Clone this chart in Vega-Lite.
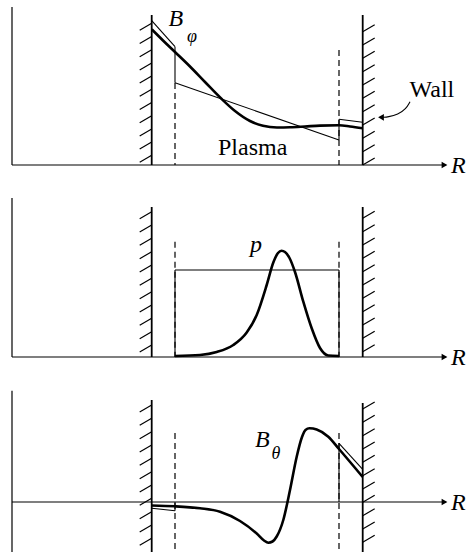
{
  "$schema": "https://vega.github.io/schema/vega-lite/v6.json",
  "width": 467,
  "height": 552,
  "padding": 0,
  "autosize": {"type": "none"},
  "background": "white",
  "config": {"view": {"stroke": null}},
  "datasets": {
    "segs": [
      {"k": "axis", "x": 12, "y": 7, "x2": 12, "y2": 165},
      {"k": "axis", "x": 12, "y": 165, "x2": 446, "y2": 165},
      {"k": "axis", "x": 12, "y": 198, "x2": 12, "y2": 357},
      {"k": "axis", "x": 12, "y": 357, "x2": 446, "y2": 357},
      {"k": "axis", "x": 12, "y": 390.7, "x2": 12, "y2": 552},
      {"k": "axis", "x": 12, "y": 502, "x2": 446, "y2": 502},
      {"k": "wall", "x": 151.7, "y": 15, "x2": 151.7, "y2": 165},
      {"k": "wall", "x": 362.7, "y": 15, "x2": 362.7, "y2": 165},
      {"k": "wall", "x": 151.7, "y": 207, "x2": 151.7, "y2": 357},
      {"k": "wall", "x": 362.7, "y": 207, "x2": 362.7, "y2": 357},
      {"k": "wall", "x": 151.7, "y": 400, "x2": 151.7, "y2": 552},
      {"k": "wall", "x": 362.7, "y": 403, "x2": 362.7, "y2": 552},
      {"k": "dash", "x": 175, "y": 83, "x2": 175, "y2": 165},
      {"k": "dash", "x": 339, "y": 50, "x2": 339, "y2": 165},
      {"k": "dash", "x": 175, "y": 241.7, "x2": 175, "y2": 357},
      {"k": "dash", "x": 339, "y": 241.7, "x2": 339, "y2": 357},
      {"k": "dash", "x": 175, "y": 433, "x2": 175, "y2": 552},
      {"k": "dash", "x": 339, "y": 433, "x2": 339, "y2": 552},
      {"k": "thin", "x": 151.7, "y": 20.7, "x2": 175, "y2": 46.7},
      {"k": "thin", "x": 175, "y": 46.7, "x2": 175, "y2": 82.7},
      {"k": "thin", "x": 175, "y": 82.7, "x2": 339, "y2": 140},
      {"k": "thin", "x": 339, "y": 140, "x2": 339, "y2": 119.3},
      {"k": "thin", "x": 339, "y": 119.3, "x2": 362.7, "y2": 122.3},
      {"k": "thin", "x": 175, "y": 270, "x2": 339, "y2": 270},
      {"k": "thin", "x": 175, "y": 270, "x2": 175, "y2": 357},
      {"k": "thin", "x": 339, "y": 270, "x2": 339, "y2": 357},
      {"k": "thin", "x": 151.7, "y": 508.3, "x2": 175, "y2": 510.7},
      {"k": "thin", "x": 175, "y": 510.7, "x2": 175, "y2": 502},
      {"k": "thin", "x": 339, "y": 502, "x2": 339, "y2": 443.3},
      {"k": "thin", "x": 339, "y": 443.3, "x2": 362.7, "y2": 469.3},
      {"k": "hatch", "x": 139.7, "y": 30.3, "x2": 151.7, "y2": 23.3},
      {"k": "hatch", "x": 139.7, "y": 43.5, "x2": 151.7, "y2": 36.5},
      {"k": "hatch", "x": 139.7, "y": 56.7, "x2": 151.7, "y2": 49.7},
      {"k": "hatch", "x": 139.7, "y": 69.9, "x2": 151.7, "y2": 62.9},
      {"k": "hatch", "x": 139.7, "y": 83.1, "x2": 151.7, "y2": 76.1},
      {"k": "hatch", "x": 139.7, "y": 96.3, "x2": 151.7, "y2": 89.3},
      {"k": "hatch", "x": 139.7, "y": 109.5, "x2": 151.7, "y2": 102.5},
      {"k": "hatch", "x": 139.7, "y": 122.7, "x2": 151.7, "y2": 115.7},
      {"k": "hatch", "x": 139.7, "y": 135.9, "x2": 151.7, "y2": 128.9},
      {"k": "hatch", "x": 139.7, "y": 149.1, "x2": 151.7, "y2": 142.1},
      {"k": "hatch", "x": 139.7, "y": 162.3, "x2": 151.7, "y2": 155.3},
      {"k": "hatch", "x": 362.7, "y": 31.7, "x2": 374.7, "y2": 24.7},
      {"k": "hatch", "x": 362.7, "y": 45, "x2": 374.7, "y2": 38},
      {"k": "hatch", "x": 362.7, "y": 58.3, "x2": 374.7, "y2": 51.3},
      {"k": "hatch", "x": 362.7, "y": 71.7, "x2": 374.7, "y2": 64.7},
      {"k": "hatch", "x": 362.7, "y": 85, "x2": 374.7, "y2": 78},
      {"k": "hatch", "x": 362.7, "y": 98.3, "x2": 374.7, "y2": 91.3},
      {"k": "hatch", "x": 362.7, "y": 111.7, "x2": 374.7, "y2": 104.7},
      {"k": "hatch", "x": 362.7, "y": 125, "x2": 374.7, "y2": 118},
      {"k": "hatch", "x": 362.7, "y": 138.3, "x2": 374.7, "y2": 131.3},
      {"k": "hatch", "x": 362.7, "y": 151.7, "x2": 374.7, "y2": 144.7},
      {"k": "hatch", "x": 362.7, "y": 165, "x2": 374.7, "y2": 158},
      {"k": "hatch", "x": 139.7, "y": 218.7, "x2": 151.7, "y2": 211.7},
      {"k": "hatch", "x": 139.7, "y": 232, "x2": 151.7, "y2": 225},
      {"k": "hatch", "x": 139.7, "y": 245.3, "x2": 151.7, "y2": 238.3},
      {"k": "hatch", "x": 139.7, "y": 258.7, "x2": 151.7, "y2": 251.7},
      {"k": "hatch", "x": 139.7, "y": 272, "x2": 151.7, "y2": 265},
      {"k": "hatch", "x": 139.7, "y": 285.3, "x2": 151.7, "y2": 278.3},
      {"k": "hatch", "x": 139.7, "y": 298.7, "x2": 151.7, "y2": 291.7},
      {"k": "hatch", "x": 139.7, "y": 312, "x2": 151.7, "y2": 305},
      {"k": "hatch", "x": 139.7, "y": 325.3, "x2": 151.7, "y2": 318.3},
      {"k": "hatch", "x": 139.7, "y": 338.7, "x2": 151.7, "y2": 331.7},
      {"k": "hatch", "x": 139.7, "y": 352, "x2": 151.7, "y2": 345},
      {"k": "hatch", "x": 362.7, "y": 218.3, "x2": 374.7, "y2": 211.3},
      {"k": "hatch", "x": 362.7, "y": 231.7, "x2": 374.7, "y2": 224.7},
      {"k": "hatch", "x": 362.7, "y": 245, "x2": 374.7, "y2": 238},
      {"k": "hatch", "x": 362.7, "y": 258.3, "x2": 374.7, "y2": 251.3},
      {"k": "hatch", "x": 362.7, "y": 271.7, "x2": 374.7, "y2": 264.7},
      {"k": "hatch", "x": 362.7, "y": 285, "x2": 374.7, "y2": 278},
      {"k": "hatch", "x": 362.7, "y": 298.3, "x2": 374.7, "y2": 291.3},
      {"k": "hatch", "x": 362.7, "y": 311.7, "x2": 374.7, "y2": 304.7},
      {"k": "hatch", "x": 362.7, "y": 325, "x2": 374.7, "y2": 318},
      {"k": "hatch", "x": 362.7, "y": 338.3, "x2": 374.7, "y2": 331.3},
      {"k": "hatch", "x": 362.7, "y": 351.7, "x2": 374.7, "y2": 344.7},
      {"k": "hatch", "x": 139.7, "y": 412, "x2": 151.7, "y2": 405},
      {"k": "hatch", "x": 139.7, "y": 425.3, "x2": 151.7, "y2": 418.3},
      {"k": "hatch", "x": 139.7, "y": 438.7, "x2": 151.7, "y2": 431.7},
      {"k": "hatch", "x": 139.7, "y": 452, "x2": 151.7, "y2": 445},
      {"k": "hatch", "x": 139.7, "y": 465.3, "x2": 151.7, "y2": 458.3},
      {"k": "hatch", "x": 139.7, "y": 478.7, "x2": 151.7, "y2": 471.7},
      {"k": "hatch", "x": 139.7, "y": 492, "x2": 151.7, "y2": 485},
      {"k": "hatch", "x": 139.7, "y": 505.3, "x2": 151.7, "y2": 498.3},
      {"k": "hatch", "x": 139.7, "y": 518.7, "x2": 151.7, "y2": 511.7},
      {"k": "hatch", "x": 139.7, "y": 532, "x2": 151.7, "y2": 525},
      {"k": "hatch", "x": 139.7, "y": 545.3, "x2": 151.7, "y2": 538.3},
      {"k": "hatch", "x": 362.7, "y": 409, "x2": 374.7, "y2": 402},
      {"k": "hatch", "x": 362.7, "y": 422.3, "x2": 374.7, "y2": 415.3},
      {"k": "hatch", "x": 362.7, "y": 435.7, "x2": 374.7, "y2": 428.7},
      {"k": "hatch", "x": 362.7, "y": 449, "x2": 374.7, "y2": 442},
      {"k": "hatch", "x": 362.7, "y": 462.3, "x2": 374.7, "y2": 455.3},
      {"k": "hatch", "x": 362.7, "y": 475.7, "x2": 374.7, "y2": 468.7},
      {"k": "hatch", "x": 362.7, "y": 489, "x2": 374.7, "y2": 482},
      {"k": "hatch", "x": 362.7, "y": 502.3, "x2": 374.7, "y2": 495.3},
      {"k": "hatch", "x": 362.7, "y": 515.7, "x2": 374.7, "y2": 508.7},
      {"k": "hatch", "x": 362.7, "y": 529, "x2": 374.7, "y2": 522},
      {"k": "hatch", "x": 362.7, "y": 542.3, "x2": 374.7, "y2": 535.3}
    ],
    "curves": [
      {"c": "Bphi", "i": 1, "x": 151.7, "y": 29.3},
      {"c": "Bphi", "i": 2, "x": 163, "y": 40.5},
      {"c": "Bphi", "i": 3, "x": 175, "y": 52},
      {"c": "Bphi", "i": 4, "x": 190, "y": 66.5},
      {"c": "Bphi", "i": 5, "x": 205, "y": 82},
      {"c": "Bphi", "i": 6, "x": 221.7, "y": 99},
      {"c": "Bphi", "i": 7, "x": 235, "y": 111},
      {"c": "Bphi", "i": 8, "x": 250, "y": 121},
      {"c": "Bphi", "i": 9, "x": 263, "y": 125.8},
      {"c": "Bphi", "i": 10, "x": 277, "y": 127.5},
      {"c": "Bphi", "i": 11, "x": 290, "y": 127.3},
      {"c": "Bphi", "i": 12, "x": 305, "y": 126.5},
      {"c": "Bphi", "i": 13, "x": 320, "y": 125.6},
      {"c": "Bphi", "i": 14, "x": 339, "y": 125.3},
      {"c": "Bphi", "i": 15, "x": 350, "y": 126.5},
      {"c": "Bphi", "i": 16, "x": 362.7, "y": 128.3},
      {"c": "p", "i": 1, "x": 175, "y": 356},
      {"c": "p", "i": 2, "x": 200, "y": 355},
      {"c": "p", "i": 3, "x": 216.7, "y": 352},
      {"c": "p", "i": 4, "x": 233.3, "y": 345},
      {"c": "p", "i": 5, "x": 246.7, "y": 332.5},
      {"c": "p", "i": 6, "x": 256.7, "y": 315},
      {"c": "p", "i": 7, "x": 266.7, "y": 285},
      {"c": "p", "i": 8, "x": 273.3, "y": 262.5},
      {"c": "p", "i": 9, "x": 278, "y": 253},
      {"c": "p", "i": 10, "x": 281.5, "y": 250.7},
      {"c": "p", "i": 11, "x": 285, "y": 252},
      {"c": "p", "i": 12, "x": 289.5, "y": 258},
      {"c": "p", "i": 13, "x": 295, "y": 272},
      {"c": "p", "i": 14, "x": 303.3, "y": 301.7},
      {"c": "p", "i": 15, "x": 311.7, "y": 328.3},
      {"c": "p", "i": 16, "x": 320, "y": 348},
      {"c": "p", "i": 17, "x": 328.3, "y": 355.5},
      {"c": "p", "i": 18, "x": 339, "y": 356},
      {"c": "Bth", "i": 1, "x": 151.7, "y": 505.5},
      {"c": "Bth", "i": 2, "x": 175, "y": 506.3},
      {"c": "Bth", "i": 3, "x": 200, "y": 508.3},
      {"c": "Bth", "i": 4, "x": 220, "y": 511.7},
      {"c": "Bth", "i": 5, "x": 240, "y": 521},
      {"c": "Bth", "i": 6, "x": 256.7, "y": 533.5},
      {"c": "Bth", "i": 7, "x": 264, "y": 540.5},
      {"c": "Bth", "i": 8, "x": 268.3, "y": 542.7},
      {"c": "Bth", "i": 9, "x": 272.5, "y": 541.5},
      {"c": "Bth", "i": 10, "x": 276.7, "y": 536.5},
      {"c": "Bth", "i": 11, "x": 283.3, "y": 520},
      {"c": "Bth", "i": 12, "x": 290, "y": 490},
      {"c": "Bth", "i": 13, "x": 296.7, "y": 456.7},
      {"c": "Bth", "i": 14, "x": 302, "y": 437},
      {"c": "Bth", "i": 15, "x": 305.5, "y": 430},
      {"c": "Bth", "i": 16, "x": 309.5, "y": 428.3},
      {"c": "Bth", "i": 17, "x": 316.7, "y": 429.5},
      {"c": "Bth", "i": 18, "x": 328.3, "y": 436.7},
      {"c": "Bth", "i": 19, "x": 339, "y": 449},
      {"c": "Bth", "i": 20, "x": 362.7, "y": 477}
    ],
    "arrow": [
      {"i": 1, "x": 410, "y": 101.7},
      {"i": 2, "x": 406, "y": 109},
      {"i": 3, "x": 398, "y": 114.5},
      {"i": 4, "x": 388, "y": 117},
      {"i": 5, "x": 383, "y": 117.3}
    ],
    "heads": [
      {"d": "r", "x": 444.5, "y": 165},
      {"d": "r", "x": 444.5, "y": 357},
      {"d": "r", "x": 444.5, "y": 502},
      {"d": "l", "x": 381, "y": 117.3}
    ],
    "italic": [
      {"t": "B", "x": 168.5, "y": 26},
      {"t": "R", "x": 451, "y": 173},
      {"t": "p", "x": 250, "y": 251.5},
      {"t": "R", "x": 451, "y": 365},
      {"t": "B", "x": 255, "y": 446.7},
      {"t": "R", "x": 451, "y": 510}
    ],
    "subs": [
      {"t": "φ", "x": 187, "y": 41.5},
      {"t": "θ", "x": 271.5, "y": 459}
    ],
    "upright": [
      {"t": "Wall", "x": 409.5, "y": 96.7},
      {"t": "Plasma", "x": 218, "y": 155}
    ]
  },
  "encoding": {
    "x": {"field": "x", "type": "quantitative", "scale": {"domain": [0, 467], "nice": false, "zero": false}, "axis": null},
    "y": {"field": "y", "type": "quantitative", "scale": {"domain": [0, 552], "reverse": true, "nice": false, "zero": false}, "axis": null}
  },
  "layer": [
    {
      "data": {"name": "segs"},
      "transform": [{"filter": "datum.k === 'axis'"}],
      "mark": {"type": "rule", "color": "black", "strokeWidth": 1.2},
      "encoding": {"x2": {"field": "x2"}, "y2": {"field": "y2"}}
    },
    {
      "data": {"name": "segs"},
      "transform": [{"filter": "datum.k === 'wall'"}],
      "mark": {"type": "rule", "color": "black", "strokeWidth": 1.8},
      "encoding": {"x2": {"field": "x2"}, "y2": {"field": "y2"}}
    },
    {
      "data": {"name": "segs"},
      "transform": [{"filter": "datum.k === 'hatch'"}],
      "mark": {"type": "rule", "color": "black", "strokeWidth": 1.2},
      "encoding": {"x2": {"field": "x2"}, "y2": {"field": "y2"}}
    },
    {
      "data": {"name": "segs"},
      "transform": [{"filter": "datum.k === 'dash'"}],
      "mark": {"type": "rule", "color": "black", "strokeWidth": 1.2, "strokeDash": [6, 4]},
      "encoding": {"x2": {"field": "x2"}, "y2": {"field": "y2"}}
    },
    {
      "data": {"name": "segs"},
      "transform": [{"filter": "datum.k === 'thin'"}],
      "mark": {"type": "rule", "color": "black", "strokeWidth": 1.1},
      "encoding": {"x2": {"field": "x2"}, "y2": {"field": "y2"}}
    },
    {
      "data": {"name": "curves"},
      "mark": {"type": "line", "color": "black", "strokeWidth": 2.6, "interpolate": "monotone"},
      "encoding": {"detail": {"field": "c"}, "order": {"field": "i", "type": "quantitative"}}
    },
    {
      "data": {"name": "arrow"},
      "mark": {"type": "line", "color": "black", "strokeWidth": 1.1, "interpolate": "basis"},
      "encoding": {"order": {"field": "i", "type": "quantitative"}}
    },
    {
      "data": {"name": "heads"},
      "mark": {"type": "point", "filled": true, "color": "black", "opacity": 1, "size": 45},
      "encoding": {
        "shape": {"field": "d", "type": "nominal", "scale": {"domain": ["r", "l"], "range": ["triangle-right", "triangle-left"]}, "legend": null}
      }
    },
    {
      "data": {"name": "italic"},
      "mark": {"type": "text", "font": "Times New Roman, Times, Nimbus Roman, FreeSerif, Liberation Serif, DejaVu Serif, Noto Serif, serif", "fontStyle": "italic", "fontSize": 24, "align": "left", "baseline": "alphabetic", "color": "black"},
      "encoding": {"text": {"field": "t"}}
    },
    {
      "data": {"name": "subs"},
      "mark": {"type": "text", "font": "Times New Roman, Times, Nimbus Roman, FreeSerif, Liberation Serif, DejaVu Serif, Noto Serif, serif", "fontStyle": "italic", "fontSize": 18, "align": "left", "baseline": "alphabetic", "color": "black"},
      "encoding": {"text": {"field": "t"}}
    },
    {
      "data": {"name": "upright"},
      "mark": {"type": "text", "font": "Times New Roman, Times, Nimbus Roman, FreeSerif, Liberation Serif, DejaVu Serif, Noto Serif, serif", "fontSize": 24, "align": "left", "baseline": "alphabetic", "color": "black"},
      "encoding": {"text": {"field": "t"}}
    }
  ]
}
